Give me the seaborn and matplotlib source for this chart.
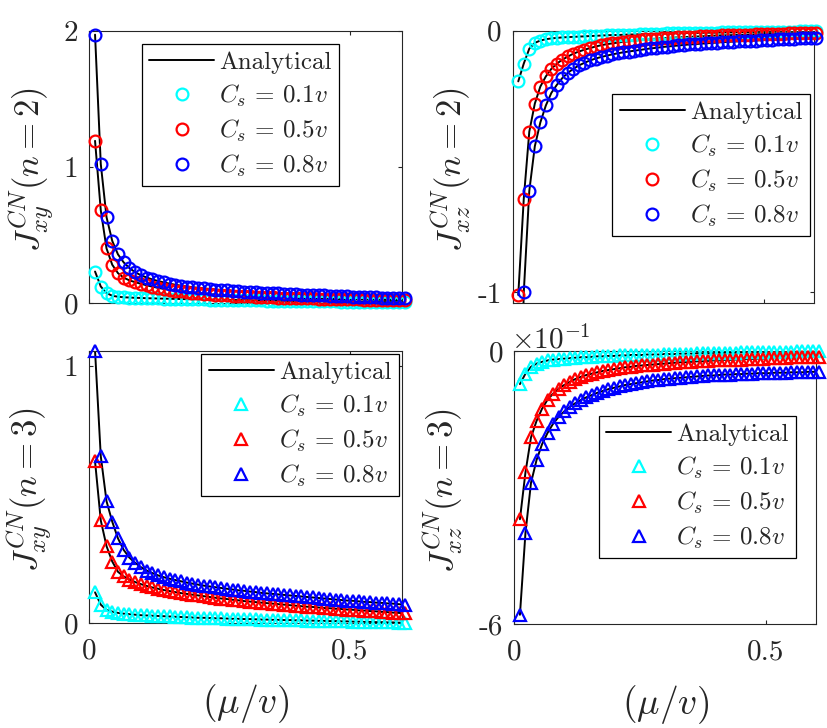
import numpy as np
import matplotlib
matplotlib.use("Agg")
import matplotlib.pyplot as plt
import seaborn as sns

# x axis: (mu / v)
mu_v = [0.011, 0.022, 0.033, 0.044, 0.055, 0.066, 0.077, 0.088, 0.099, 0.110,
        0.121, 0.132, 0.143, 0.154, 0.165, 0.176, 0.187, 0.198, 0.209, 0.220,
        0.231, 0.242, 0.253, 0.264, 0.275, 0.286, 0.297, 0.308, 0.319, 0.330,
        0.341, 0.352, 0.363, 0.374, 0.385, 0.396, 0.407, 0.418, 0.429, 0.440,
        0.451, 0.462, 0.473, 0.484, 0.495, 0.506, 0.517, 0.528, 0.539, 0.550,
        0.561, 0.572, 0.583, 0.594, 0.605]

cs_labels = [r"$C_s\,=\,0.1v$", r"$C_s\,=\,0.5v$", r"$C_s\,=\,0.8v$"]
cs_colors = ["cyan", "red", "blue"]

# J_xy^CN, n = 2
jxy2_c01 = [0.23, 0.12, 0.072, 0.052, 0.045, 0.041, 0.039, 0.037, 0.036, 0.034,
            0.033, 0.032, 0.031, 0.030, 0.029, 0.028, 0.027, 0.026, 0.026, 0.025,
            0.024, 0.023, 0.023, 0.022, 0.021, 0.020, 0.020, 0.019, 0.018, 0.018,
            0.017, 0.016, 0.016, 0.015, 0.014, 0.014, 0.013, 0.013, 0.012, 0.011,
            0.011, 0.010, 0.010, 0.009, 0.009, 0.008, 0.008, 0.007, 0.007, 0.006,
            0.006, 0.005, 0.005, 0.004, 0.004]
jxy2_c05 = [1.19, 0.68, 0.40, 0.28, 0.218, 0.185, 0.165, 0.152, 0.140, 0.129,
            0.119, 0.110, 0.102, 0.095, 0.089, 0.084, 0.079, 0.075, 0.071, 0.067,
            0.064, 0.061, 0.058, 0.055, 0.053, 0.051, 0.049, 0.047, 0.045, 0.043,
            0.042, 0.040, 0.039, 0.037, 0.036, 0.035, 0.034, 0.033, 0.032, 0.031,
            0.030, 0.029, 0.028, 0.027, 0.026, 0.026, 0.025, 0.024, 0.023, 0.023,
            0.022, 0.021, 0.021, 0.020, 0.020]
jxy2_c08 = [1.97, 1.02, 0.63, 0.455, 0.356, 0.297, 0.255, 0.225, 0.203, 0.186,
            0.172, 0.160, 0.150, 0.141, 0.133, 0.126, 0.120, 0.115, 0.110, 0.106,
            0.102, 0.098, 0.095, 0.092, 0.089, 0.086, 0.083, 0.080, 0.078, 0.075,
            0.073, 0.071, 0.069, 0.067, 0.065, 0.063, 0.061, 0.059, 0.057, 0.055,
            0.054, 0.052, 0.050, 0.049, 0.047, 0.046, 0.044, 0.043, 0.041, 0.040,
            0.038, 0.037, 0.035, 0.034, 0.033]

# J_xz^CN, n = 2
jxz2_c01 = [-0.194, -0.126, -0.069, -0.047, -0.038, -0.033, -0.030, -0.028, -0.026, -0.025,
            -0.024, -0.023, -0.022, -0.021, -0.020, -0.019, -0.018, -0.017, -0.017, -0.016,
            -0.015, -0.015, -0.014, -0.013, -0.013, -0.012, -0.012, -0.011, -0.011, -0.010,
            -0.010, -0.009, -0.009, -0.009, -0.008, -0.008, -0.008, -0.007, -0.007, -0.007,
            -0.006, -0.006, -0.006, -0.005, -0.005, -0.005, -0.005, -0.004, -0.004, -0.004,
            -0.004, -0.003, -0.003, -0.003, -0.003]
jxz2_c05 = [-1.01, -0.642, -0.386, -0.279, -0.214, -0.175, -0.146, -0.126, -0.111, -0.099,
            -0.088, -0.080, -0.073, -0.067, -0.061, -0.056, -0.052, -0.049, -0.046, -0.043,
            -0.041, -0.038, -0.036, -0.034, -0.032, -0.031, -0.029, -0.028, -0.027, -0.026,
            -0.025, -0.024, -0.023, -0.022, -0.021, -0.020, -0.019, -0.018, -0.018, -0.017,
            -0.016, -0.016, -0.015, -0.014, -0.014, -0.013, -0.013, -0.012, -0.012, -0.011,
            -0.011, -0.010, -0.010, -0.009, -0.009]
jxz2_c08 = [-1.85, -1.0, -0.612, -0.442, -0.351, -0.286, -0.238, -0.207, -0.181, -0.161,
            -0.146, -0.133, -0.123, -0.114, -0.107, -0.101, -0.096, -0.091, -0.087, -0.083,
            -0.080, -0.077, -0.074, -0.071, -0.068, -0.066, -0.063, -0.061, -0.059, -0.057,
            -0.055, -0.053, -0.052, -0.050, -0.049, -0.047, -0.046, -0.044, -0.043, -0.042,
            -0.041, -0.040, -0.039, -0.038, -0.037, -0.036, -0.035, -0.034, -0.033, -0.032,
            -0.031, -0.030, -0.029, -0.029, -0.028]

# J_xy^CN, n = 3
jxy3_c01 = [0.12, 0.072, 0.052, 0.045, 0.040, 0.037, 0.035, 0.033, 0.031, 0.030,
            0.029, 0.028, 0.027, 0.026, 0.025, 0.024, 0.023, 0.022, 0.021, 0.021,
            0.020, 0.019, 0.019, 0.018, 0.017, 0.017, 0.016, 0.016, 0.015, 0.014,
            0.014, 0.013, 0.013, 0.012, 0.012, 0.011, 0.011, 0.010, 0.010, 0.009,
            0.009, 0.008, 0.008, 0.007, 0.007, 0.006, 0.006, 0.005, 0.005, 0.004,
            0.004, 0.003, 0.003, 0.002, 0.002]
jxy3_c05 = [0.63, 0.40, 0.30, 0.24, 0.20, 0.182, 0.170, 0.160, 0.152, 0.145,
            0.139, 0.134, 0.129, 0.125, 0.121, 0.117, 0.114, 0.111, 0.108, 0.105,
            0.102, 0.099, 0.096, 0.094, 0.091, 0.089, 0.086, 0.084, 0.082, 0.080,
            0.078, 0.076, 0.074, 0.072, 0.070, 0.068, 0.066, 0.064, 0.063, 0.061,
            0.059, 0.058, 0.056, 0.055, 0.053, 0.052, 0.050, 0.049, 0.047, 0.046,
            0.044, 0.043, 0.041, 0.040, 0.038]
jxy3_c08 = [1.06, 0.65, 0.475, 0.395, 0.33, 0.285, 0.255, 0.235, 0.218, 0.205,
            0.195, 0.186, 0.179, 0.173, 0.168, 0.163, 0.158, 0.154, 0.150, 0.146,
            0.143, 0.140, 0.137, 0.134, 0.131, 0.128, 0.126, 0.123, 0.121, 0.118,
            0.116, 0.114, 0.112, 0.110, 0.108, 0.106, 0.104, 0.102, 0.100, 0.098,
            0.096, 0.094, 0.092, 0.090, 0.088, 0.087, 0.085, 0.083, 0.082, 0.080,
            0.079, 0.077, 0.076, 0.074, 0.072]

# J_xz^CN, n = 3
jxz3_c01 = [-0.073, -0.050, -0.035, -0.028, -0.024, -0.021, -0.019, -0.018, -0.017, -0.016,
            -0.015, -0.014, -0.014, -0.013, -0.012, -0.012, -0.011, -0.011, -0.010, -0.010,
            -0.009, -0.009, -0.009, -0.008, -0.008, -0.008, -0.007, -0.007, -0.007, -0.006,
            -0.006, -0.006, -0.005, -0.005, -0.005, -0.005, -0.004, -0.004, -0.004, -0.004,
            -0.003, -0.003, -0.003, -0.003, -0.003, -0.002, -0.002, -0.002, -0.002, -0.002,
            -0.001, -0.001, -0.001, -0.001, -0.001]
jxz3_c05 = [-0.37, -0.267, -0.19, -0.154, -0.127, -0.107, -0.094, -0.083, -0.075, -0.068,
            -0.062, -0.057, -0.053, -0.050, -0.047, -0.044, -0.042, -0.040, -0.038, -0.036,
            -0.035, -0.033, -0.032, -0.031, -0.030, -0.029, -0.028, -0.027, -0.026, -0.025,
            -0.025, -0.024, -0.023, -0.023, -0.022, -0.021, -0.021, -0.020, -0.020, -0.019,
            -0.019, -0.018, -0.018, -0.017, -0.017, -0.016, -0.016, -0.015, -0.015, -0.014,
            -0.014, -0.014, -0.013, -0.013, -0.013]
jxz3_c08 = [-0.58, -0.40, -0.29, -0.24, -0.205, -0.18, -0.16, -0.145, -0.133, -0.123,
            -0.115, -0.108, -0.102, -0.097, -0.092, -0.088, -0.084, -0.081, -0.078, -0.075,
            -0.073, -0.071, -0.069, -0.067, -0.065, -0.064, -0.062, -0.061, -0.060, -0.059,
            -0.058, -0.057, -0.056, -0.055, -0.054, -0.054, -0.053, -0.052, -0.052, -0.051,
            -0.051, -0.050, -0.050, -0.049, -0.049, -0.049, -0.048, -0.048, -0.048, -0.047,
            -0.047, -0.047, -0.046, -0.046, -0.046]

sns.set_style("ticks")
plt.rcParams.update({
    "font.family": ["cmr10", "DejaVu Serif"],
    "mathtext.fontset": "cm",
    "axes.unicode_minus": False,
    "axes.linewidth": 0.8,
    "axes.edgecolor": "#262626",
    "xtick.direction": "in",
    "ytick.direction": "in",
})

fig = plt.figure(figsize=(8.27, 7.28), dpi=100)

panels = [
    # rect, series, marker, ylim, yticks, yticklabels, ylabel, ylabel x, legend anchor, bottom row
    ([0.108, 0.584, 0.378, 0.374], [jxy2_c01, jxy2_c05, jxy2_c08], "o", (0, 2),
     [0, 1, 2], ["0", "1", "2"], r"$J_{xy}^{CN}(n=2)$", -0.186, (0.80, 0.952), False),
    ([0.620, 0.584, 0.364, 0.374], [jxz2_c01, jxz2_c05, jxz2_c08], "o", (-1.04, 0),
     [-1, 0], ["-1", "0"], r"$J_{xz}^{CN}(n=2)$", -0.203, (0.987, 0.768), False),
    ([0.108, 0.144, 0.378, 0.374], [jxy3_c01, jxy3_c05, jxy3_c08], "^", (0, 1.06),
     [0, 1], ["0", "1"], r"$J_{xy}^{CN}(n=3)$", -0.19, (0.99, 0.99), True),
    ([0.622, 0.143, 0.365, 0.375], [jxz3_c01, jxz3_c05, jxz3_c08], "^", (-0.6, 0),
     [-0.6, 0], ["-6", "0"], r"$J_{xz}^{CN}(n=3)$", -0.233, (0.934, 0.762), True),
]

x = np.array(mu_v)
for rect, series, mk, ylim, yt, ytl, ylab, ylx, anchor, bottom in panels:
    ax = fig.add_axes(rect)
    # analytical curves
    for i, ys in enumerate(series):
        sns.lineplot(x=x, y=ys, ax=ax, color="k", lw=1.4, estimator=None,
                     sort=False, legend=False,
                     label="Analytical" if i == 0 else "_nolegend_")
    # numerical points
    for ys, col, lab in zip(series, cs_colors, cs_labels):
        y = np.array(ys)
        keep = (y >= ylim[0] - 1e-6) & (y <= ylim[1] + 1e-6)
        sns.lineplot(x=x[keep], y=y[keep], ax=ax, color=col, marker=mk, ls="none",
                     ms=8.5, mfc="none", mec=col, mew=1.6, estimator=None,
                     sort=False, legend=False, label=lab, clip_on=False, zorder=3)

    ax.set_xlim(0, 0.6)
    ax.set_ylim(*ylim)
    ax.set_xticks([0, 0.5])
    ax.set_yticks(yt)
    ax.set_yticklabels(ytl)
    if bottom:
        ax.set_xticklabels(["0", "0.5"])
        ax.set_xlabel(r"$(\mu/v)$", fontsize=27, va="center")
        ax.xaxis.set_label_coords(0.5, -0.294)
    else:
        ax.set_xticklabels([])
    ax.tick_params(which="both", direction="in", top=True, right=True,
                   length=3, width=0.8, labelsize=21, pad=8)
    ax.tick_params(axis="x", pad=11)
    ax.set_ylabel(ylab, fontsize=25, va="center")
    ax.yaxis.set_label_coords(ylx, 0.49)
    for sp in ax.spines.values():
        sp.set_visible(True)

    handles, labels = ax.get_legend_handles_labels()
    leg = ax.legend(handles, labels, loc="upper right", bbox_to_anchor=anchor,
                    borderaxespad=0, fancybox=False, framealpha=1, edgecolor="k",
                    fontsize=18, handlelength=2.6, handletextpad=0.2,
                    borderpad=0.3, labelspacing=0.35, numpoints=1)
    leg.get_frame().set_linewidth(0.9)

    if ylim == (-0.6, 0):
        ax.text(-0.012, 1.01, r"$\times10^{-1}$", transform=ax.transAxes,
                ha="left", va="baseline", fontsize=21)

fig.savefig("out.png", dpi=100)
